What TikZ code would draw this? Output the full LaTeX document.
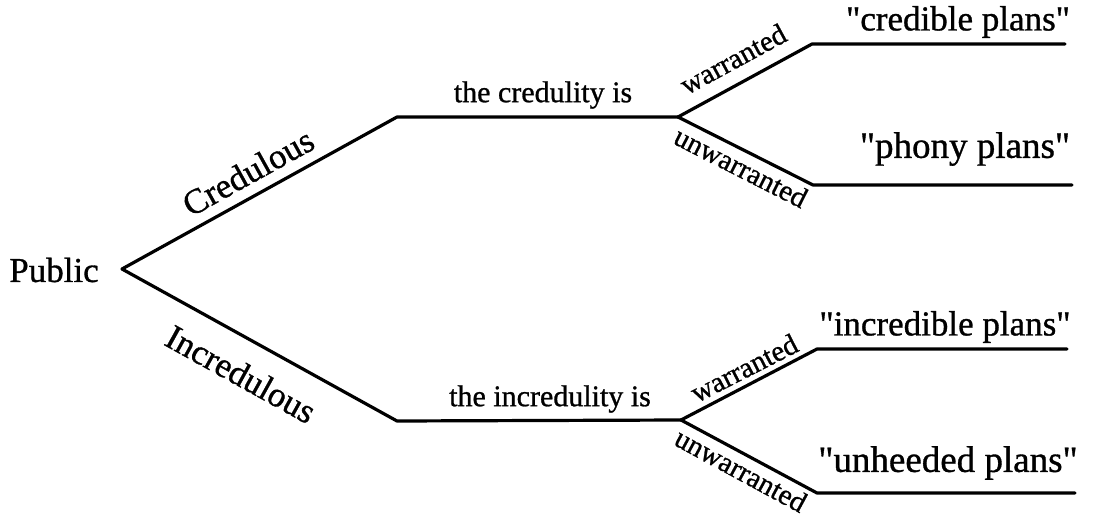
\documentclass[tikz,border=0pt]{standalone}
\usepackage{fontspec}
\newfontfamily\hv{Liberation Serif}[BoldFont={Liberation Serif}, BoldFeatures={FakeBold=0.9}]
\begin{document}
\begin{tikzpicture}[x=1pt,y=-1pt,
  branch/.style={line width=3.2pt, line join=round, line cap=round},
  big/.style={inner sep=0pt, font=\hv\bfseries\fontsize{35}{35}\selectfont},
  bigger/.style={inner sep=0pt, font=\hv\bfseries\fontsize{37}{37}\selectfont},
  mid/.style={inner sep=0pt, font=\hv\bfseries\fontsize{30}{30}\selectfont},
  small/.style={inner sep=0pt, font=\hv\bfseries\fontsize{29}{29}\selectfont}]
\useasboundingbox (0,0) rectangle (1094,519);
% points
\coordinate (root) at (122,269);
\coordinate (c1) at (397,117);
\coordinate (fa) at (678,117);
\coordinate (cw) at (812,44);
\coordinate (cwe) at (1065,44);
\coordinate (cu) at (813,185);
\coordinate (cue) at (1072,185);
\coordinate (i1) at (397,421);
\coordinate (fb) at (681,420);
\coordinate (iw) at (817,349);
\coordinate (iwe) at (1067,349);
\coordinate (iu) at (817,493);
\coordinate (iue) at (1075,493);
% branches
\draw[branch] (root) -- (c1) -- (fa);
\draw[branch] (fa) -- (cw) -- (cwe);
\draw[branch] (fa) -- (cu) -- (cue);
\draw[branch] (root) -- (i1) -- (fb);
\draw[branch] (fb) -- (iw) -- (iwe);
\draw[branch] (fb) -- (iu) -- (iue);
% labels
\node[big] (public) at (54,270) {Public};
\node[big, rotate=29] (cred) at (248,172) {Credulous};
\node[big, rotate=-29] (incred) at (241,374) {Incredulous};
\node[mid] (tc) at (543,95) {the credulity is};
\node[mid] (ti) at (550,399) {the incredulity is};
\node[small, rotate=28.5] (w1) at (733,59) {warranted};
\node[small, rotate=-27] (u1) at (741,167) {unwarranted};
\node[small, rotate=27] (w2) at (744,368) {warranted};
\node[small, rotate=-28.5] (u2) at (741,470) {unwarranted};
\node[big] (p1) at (958,22) {"credible plans"};
\node[bigger] (p2) at (965,149) {"phony plans"};
\node[big] (p3) at (945,327) {"incredible plans"};
\node[bigger] (p4) at (948,463) {"unheeded plans"};
\end{tikzpicture}
\end{document}
